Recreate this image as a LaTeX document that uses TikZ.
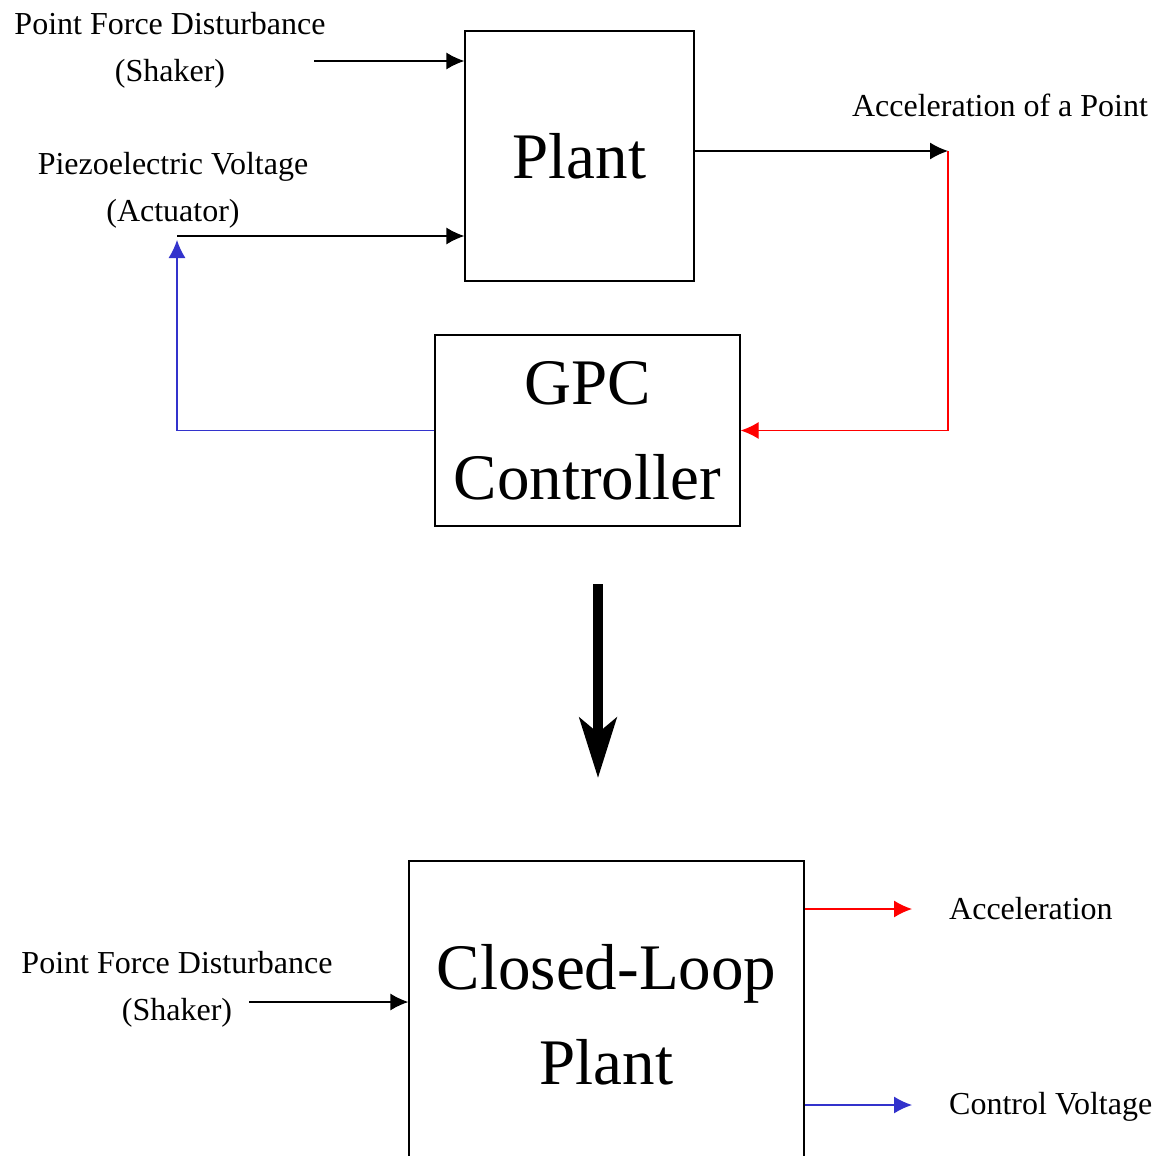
\documentclass[tikz,border=0pt]{standalone}
\usepackage{fontspec}
\setmainfont{Liberation Serif}
\usetikzlibrary{arrows.meta}
\definecolor{ctrlblue}{RGB}{51,51,204}
\definecolor{fbred}{RGB}{255,0,0}
\tikzset{
  block/.style={draw, line width=1.3pt, align=center, inner sep=0pt,
    font=\fontsize{65}{95}\selectfont},
  lbl/.style={align=center, inner sep=0pt, font=\fontsize{32}{47}\selectfont},
  sig/.style={line width=1.3pt, -{Latex[length=18pt,width=17pt]}},
}
\begin{document}
\begin{tikzpicture}[x=1pt, y=-1pt]
  \clip (0,0) rectangle (1162,1156);
  % blocks
  \node[block, minimum width=229pt, minimum height=250pt] (plant) at (579.5,156) {Plant};
  \node[block, minimum width=305pt, minimum height=191pt] (gpc) at (587.5,430.5) {GPC\\Controller};
  \node[block, minimum width=395pt, minimum height=308pt] (clp) at (606.5,1015) {Closed-Loop\\Plant};
  % labels
  \node[lbl] (shaker) at (170,50) {Point Force Disturbance\\(Shaker)};
  \node[lbl] (piezo) at (173,190) {Piezoelectric Voltage\\(Actuator)};
  \node[lbl] (accpt) at (1000,105) {Acceleration of a Point};
  \node[lbl] (shaker2) at (177,989) {Point Force Disturbance\\(Shaker)};
  \node[lbl, anchor=west] (acc) at (949,909) {Acceleration};
  \node[lbl, anchor=west] (cvolt) at (949,1107) {Control Voltage};
  % signal points
  \coordinate (sIn) at (314,61);
  \coordinate (aIn) at (177,236);
  \coordinate (aOut) at (948,151);
  \coordinate (dIn) at (249,1002);
  \coordinate (bigTop) at (598,584);
  \coordinate (bigTip) at (598,778);
  % open loop
  \draw[sig] (sIn) -- (sIn -| plant.west);
  \draw[sig] (aIn) -- (aIn -| plant.west);
  \draw[sig] (aOut -| plant.east) -- (aOut);
  \draw[sig, fbred] (aOut) |- (gpc.east);
  \draw[sig, ctrlblue, shorten >=4pt] (gpc.west) -| (aIn);
  % reduction arrow
  \draw[line width=10pt, -{Stealth[length=60pt,width=37pt,inset=15pt]}] (bigTop) -- (bigTip);
  % closed loop
  \draw[sig] (dIn) -- (dIn -| clp.west);
  \draw[sig, fbred, shorten >=37pt] (acc.west -| clp.east) -- (acc.west);
  \draw[sig, ctrlblue, shorten >=37pt] ([yshift=2pt]cvolt.west -| clp.east) -- ([yshift=2pt]cvolt.west);
\end{tikzpicture}
\end{document}
